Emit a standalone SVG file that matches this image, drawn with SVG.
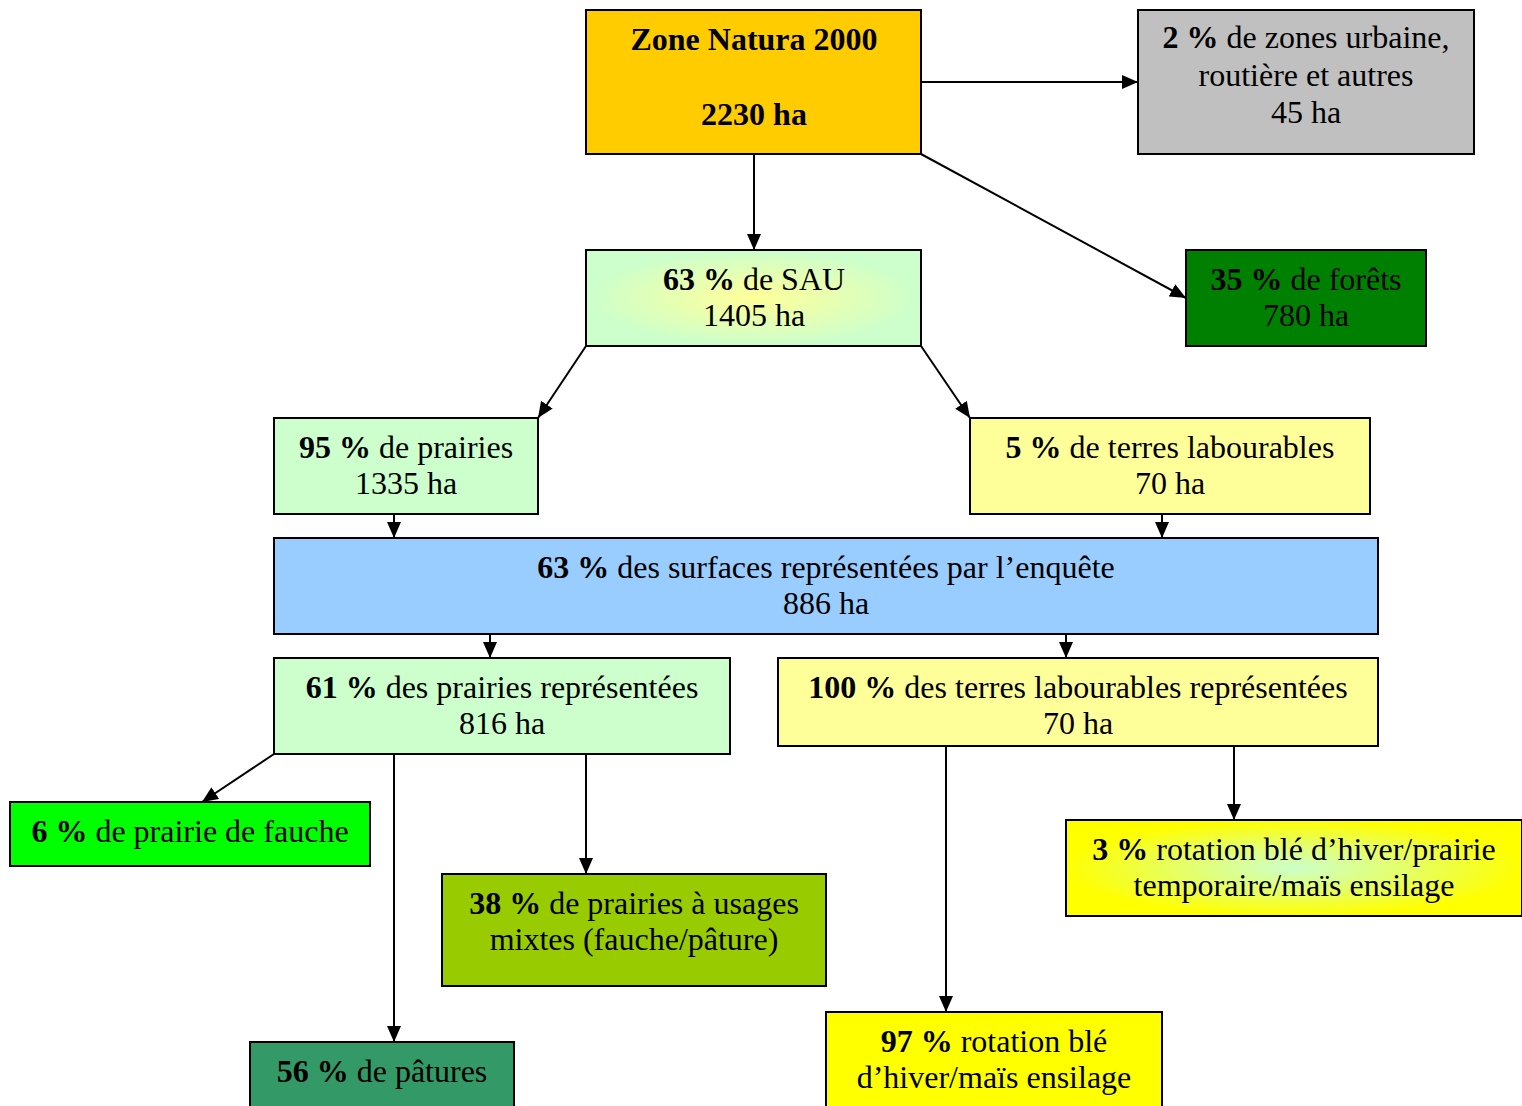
<svg xmlns="http://www.w3.org/2000/svg" width="1522" height="1106" viewBox="0 0 1522 1106">
<style>
.box{stroke:#000;stroke-width:2}
text{font-family:"Liberation Serif","Times New Roman",serif;font-size:32px;fill:#000;text-anchor:middle}
.b{font-weight:bold}
.c{stroke:#000;stroke-width:2;fill:none;marker-end:url(#ah)}
</style>
<defs>
<marker id="ah" markerUnits="userSpaceOnUse" markerWidth="16" markerHeight="14" refX="16" refY="7" orient="auto">
<path d="M0,0 L16,7 L0,14 Z" fill="#000"/>
</marker>
<radialGradient id="gSau" cx="50%" cy="50%" r="50%">
<stop offset="0" stop-color="#ffff99"/>
<stop offset="1" stop-color="#ccffcc"/>
</radialGradient>
<radialGradient id="g3" cx="50%" cy="50%" r="50%">
<stop offset="0" stop-color="#ccffcc"/>
<stop offset="1" stop-color="#ffff00"/>
</radialGradient>
</defs>
<g id="connectors">
<line class="c" x1="921" y1="82" x2="1138" y2="82"/>
<line class="c" x1="754" y1="154" x2="754" y2="250"/>
<line class="c" x1="921" y1="154" x2="1186" y2="298"/>
<line class="c" x1="586" y1="346" x2="538" y2="418"/>
<line class="c" x1="921" y1="346" x2="970" y2="418"/>
<line class="c" x1="394" y1="514" x2="394" y2="538"/>
<line class="c" x1="1162" y1="514" x2="1162" y2="538"/>
<line class="c" x1="490" y1="634" x2="490" y2="658"/>
<line class="c" x1="1066" y1="634" x2="1066" y2="658"/>
<line class="c" x1="274" y1="754" x2="202" y2="802"/>
<line class="c" x1="394" y1="754" x2="394" y2="1042"/>
<line class="c" x1="586" y1="754" x2="586" y2="874"/>
<line class="c" x1="946" y1="746" x2="946" y2="1012"/>
<line class="c" x1="1234" y1="746" x2="1234" y2="820"/>
</g>
<g id="zone">
<rect class="box" x="586" y="10" width="335" height="144" fill="#ffcc00"/>
<text class="b" x="754" y="50">Zone Natura 2000</text>
<text class="b" x="754" y="125">2230 ha</text>
</g>
<g id="urbain">
<rect class="box" x="1138" y="10" width="336" height="144" fill="#c0c0c0"/>
<text x="1306" y="48"><tspan class="b">2 %</tspan> de zones urbaine,</text>
<text x="1306" y="86">routière et autres</text>
<text x="1306" y="123">45 ha</text>
</g>
<g id="sau">
<rect class="box" x="586" y="250" width="335" height="96" fill="url(#gSau)"/>
<text x="754" y="290"><tspan class="b">63 %</tspan> de SAU</text>
<text x="754" y="326">1405 ha</text>
</g>
<g id="forets">
<rect class="box" x="1186" y="250" width="240" height="96" fill="#008000"/>
<text x="1306" y="290"><tspan class="b">35 %</tspan> de forêts</text>
<text x="1306" y="326">780 ha</text>
</g>
<g id="prairies">
<rect class="box" x="274" y="418" width="264" height="96" fill="#ccffcc"/>
<text x="406" y="458"><tspan class="b">95 %</tspan> de prairies</text>
<text x="406" y="494">1335 ha</text>
</g>
<g id="terres">
<rect class="box" x="970" y="418" width="400" height="96" fill="#ffff99"/>
<text x="1170" y="458"><tspan class="b">5 %</tspan> de terres labourables</text>
<text x="1170" y="494">70 ha</text>
</g>
<g id="enquete">
<rect class="box" x="274" y="538" width="1104" height="96" fill="#99ccff"/>
<text x="826" y="578"><tspan class="b">63 %</tspan> des surfaces représentées par l’enquête</text>
<text x="826" y="614">886 ha</text>
</g>
<g id="prairiesRep">
<rect class="box" x="274" y="658" width="456" height="96" fill="#ccffcc"/>
<text x="502" y="698"><tspan class="b">61 %</tspan> des prairies représentées</text>
<text x="502" y="734">816 ha</text>
</g>
<g id="terresRep">
<rect class="box" x="778" y="658" width="600" height="88" fill="#ffff99"/>
<text x="1078" y="698"><tspan class="b">100 %</tspan> des terres labourables représentées</text>
<text x="1078" y="734">70 ha</text>
</g>
<g id="fauche">
<rect class="box" x="10" y="802" width="360" height="64" fill="#00ff00"/>
<text x="190" y="842"><tspan class="b">6 %</tspan> de prairie de fauche</text>
</g>
<g id="mixtes">
<rect class="box" x="442" y="874" width="384" height="112" fill="#99cc00"/>
<text x="634" y="914"><tspan class="b">38 %</tspan> de prairies à usages</text>
<text x="634" y="950">mixtes (fauche/pâture)</text>
</g>
<g id="patures">
<rect class="box" x="250" y="1042" width="264" height="72" fill="#339966"/>
<text x="382" y="1082"><tspan class="b">56 %</tspan> de pâtures</text>
</g>
<g id="rot97">
<rect class="box" x="826" y="1012" width="336" height="102" fill="#ffff00"/>
<text x="994" y="1052"><tspan class="b">97 %</tspan> rotation blé</text>
<text x="994" y="1088">d’hiver/maïs ensilage</text>
</g>
<g id="rot3">
<rect class="box" x="1066" y="820" width="456" height="96" fill="url(#g3)"/>
<text x="1294" y="860"><tspan class="b">3 %</tspan> rotation blé d’hiver/prairie</text>
<text x="1294" y="896">temporaire/maïs ensilage</text>
</g>
</svg>
